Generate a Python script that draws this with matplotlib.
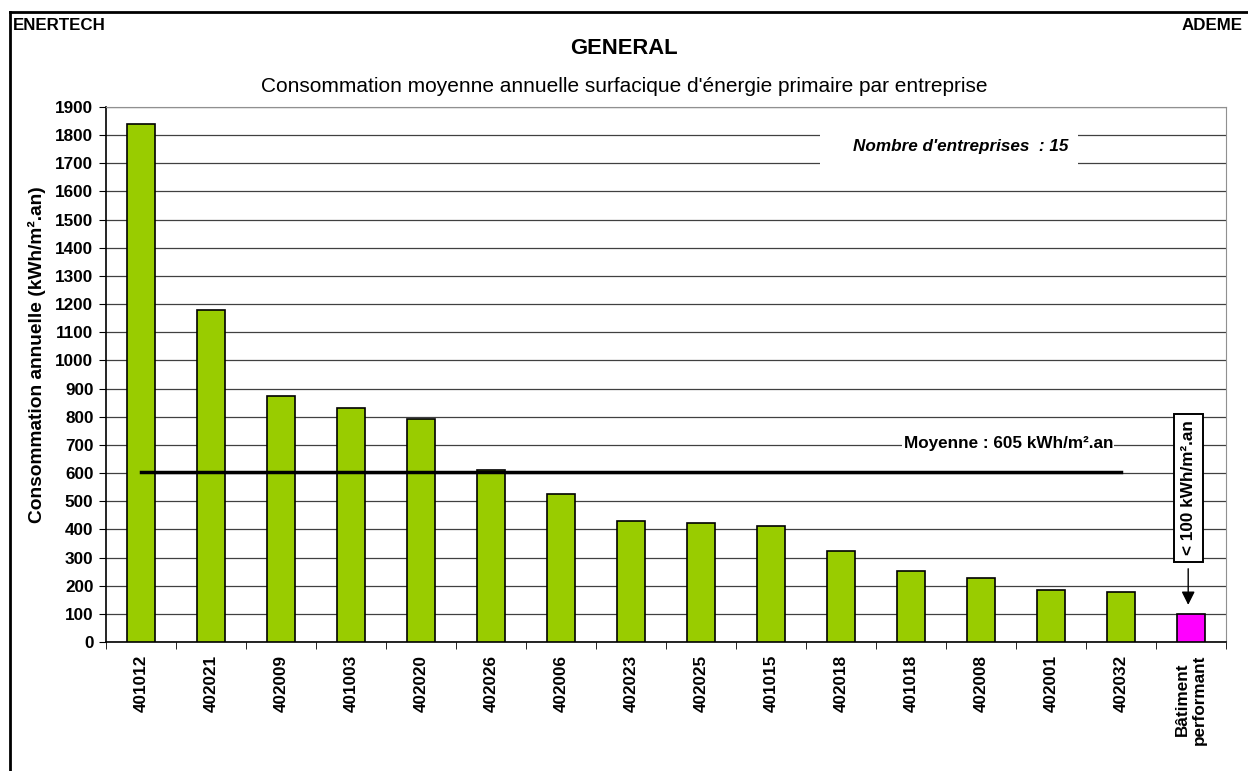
import matplotlib
matplotlib.use("Agg")
import matplotlib.pyplot as plt
from matplotlib.patches import Rectangle
from matplotlib.lines import Line2D

plt.rcParams['font.family'] = ['Liberation Sans', 'DejaVu Sans']

# region data
entreprises = ["401012", "402021", "402009", "401003", "402020", "402026", "402006",
               "402023", "402025", "401015", "402018", "401018", "402008", "402001",
               "402032", "Bâtiment\nperformant"]
conso = [1840, 1178, 872, 831, 792, 610, 524, 430, 422, 413, 322, 252, 227, 183, 178, 100]
couleurs = ["#99CC00"] * 15 + ["#FF00FF"]
moyenne = 605
nb_entreprises = 15
y_ticks = list(range(0, 2000, 100))
# endregion

W, H = 1248, 771
fig = plt.figure(figsize=(W / 100, H / 100), dpi=100)
ax = fig.add_axes([106 / W, 1 - 642 / H, 1120 / W, 535 / H])

x = list(range(len(conso)))
ax.bar(x, conso, width=0.4, color=couleurs, edgecolor="black", linewidth=1.2, zorder=3)

# mean line over the 15 companies
ax.plot([0, nb_entreprises - 1], [moyenne, moyenne], color="black", lw=2.5, zorder=4)

ax.set_xlim(-0.5, len(conso) - 0.5)
ax.set_ylim(0, 1900)
ax.set_yticks(y_ticks)
ax.set_yticklabels([str(v) for v in y_ticks], fontweight="bold", fontsize=12.3)
ax.yaxis.grid(True, color="#404040", lw=0.9, zorder=0)
ax.set_axisbelow(True)

# category labels between tick marks, Excel style
ax.set_xticks(x)
ax.set_xticklabels(entreprises, rotation=90, fontweight="bold", fontsize=12.3, va="top")
ax.tick_params(axis="x", length=0, pad=9)
ax.set_xticks([i - 0.5 for i in range(len(conso) + 1)], minor=True)
ax.tick_params(axis="x", which="minor", length=5, direction="out", color="black")
ax.tick_params(axis="y", length=5, direction="out", pad=4)

for side in ["top", "right"]:
    ax.spines[side].set_color("#909090")
ax.spines["left"].set_linewidth(1.2)
ax.spines["bottom"].set_linewidth(1.2)

fig.text(37 / W, 1 - 355 / H, "Consommation annuelle (kWh/m².an)", rotation=90,
         ha="center", va="center", fontweight="bold", fontsize=13.8)

# number of companies box
ax.add_patch(Rectangle((9.7, 1694), 3.69, 124, facecolor="white", edgecolor="none", zorder=5))
ax.text(13.25, 1758, "Nombre d'entreprises  : %d" % nb_entreprises, ha="right", va="center",
        fontsize=12.3, fontweight="bold", fontstyle="italic", zorder=6)

# mean label
ax.text(13.886, 705, "Moyenne : %d kWh/m².an" % moyenne, ha="right", va="center",
        fontsize=12.3, fontweight="bold", zorder=6,
        bbox=dict(facecolor="white", edgecolor="none", pad=1))

# reference building annotation
ax.annotate("", xy=(14.96, 122), xytext=(14.96, 270),
            arrowprops=dict(arrowstyle="-|>", color="black", lw=1, mutation_scale=20), zorder=6)
ax.text(14.96, 547, "< 100 kWh/m².an", rotation=90, ha="center", va="center",
        fontsize=12.3, fontweight="bold", zorder=7,
        bbox=dict(boxstyle="square,pad=0.4", facecolor="white", edgecolor="black", lw=1.4))

# titles
fig.text(0.5, 1 - 48 / H, "GENERAL", ha="center", va="center", fontsize=15.8, fontweight="bold")
fig.text(0.5, 1 - 86 / H, "Consommation moyenne annuelle surfacique d'énergie primaire par entreprise",
         ha="center", va="center", fontsize=15)
fig.text(13 / W, 1 - 25 / H, "ENERTECH", ha="left", va="center", fontsize=12.2, fontweight="bold")
fig.text(1243 / W, 1 - 25 / H, "ADEME", ha="right", va="center", fontsize=12.2, fontweight="bold")

# outer frame (left and top edges)
fig.add_artist(Line2D([10 / W, 10 / W], [0, 1 - 12 / H], color="black", lw=2,
                      transform=fig.transFigure))
fig.add_artist(Line2D([10 / W, 1], [1 - 12 / H, 1 - 12 / H], color="black", lw=2,
                      transform=fig.transFigure))

fig.savefig("out.png", dpi=100)
